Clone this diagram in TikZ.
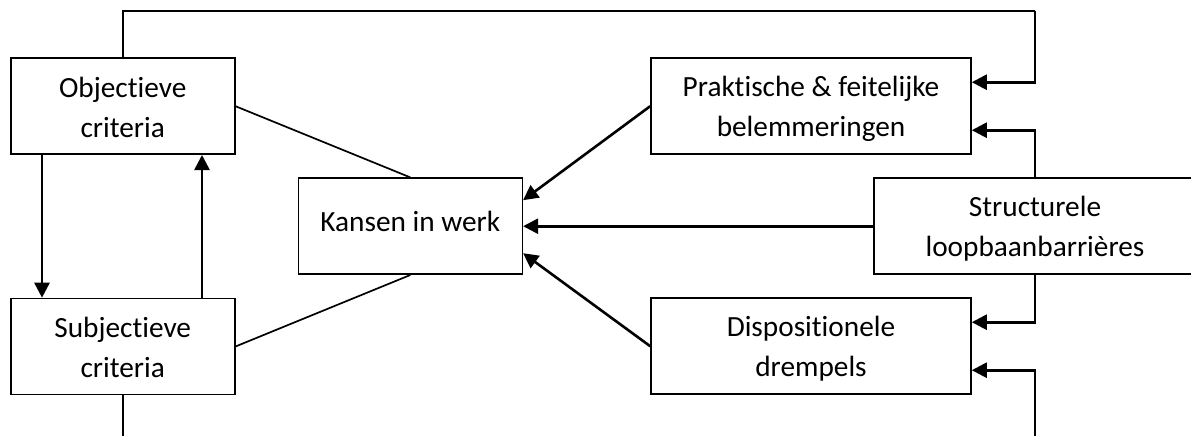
\documentclass[tikz,border=0pt]{standalone}
\usepackage{fontspec}
\setmainfont[RawFeature={-liga}]{Carlito}
\usetikzlibrary{arrows.meta,calc}
% struts that fix the baselines inside the boxes
\newcommand\twostrut{\rule[-4pt]{0pt}{30pt}}
\newcommand\onestrut{\rule[-16pt]{0pt}{42pt}}
\begin{document}
\begin{tikzpicture}[x=1pt,y=-1pt,
  box/.style={draw, line width=1.6pt, minimum height=96pt, align=center,
    inner sep=0pt, font=\fontsize{29.3}{40}\selectfont},
  thinline/.style={line width=1.7pt},
  flow/.style={line width=2.6pt, -{Triangle[length=15pt,width=15pt]}}]
\useasboundingbox (0,0) rectangle (1191,436);
\clip (0,0) rectangle (1191,436);

% boxes
\node[box, minimum width=224pt] (obj) at (122.7,106.2) {\twostrut Objectieve\\\twostrut criteria};
\node[box, minimum width=224pt] (sub) at (122.7,346.5) {\twostrut Subjectieve\\\twostrut criteria};
\node[box, minimum width=224pt] (kan) at (410.3,226.2) {\onestrut Kansen in werk};
\node[box, minimum width=320pt] (prak) at (811,106.2) {\twostrut Praktische \& feitelijke\\\twostrut belemmeringen};
\node[box, minimum width=322pt] (struc) at (1035,226.2) {\twostrut Structurele\\\twostrut loopbaanbarrières};
\node[box, minimum width=320pt] (disp) at (811,346.2) {\twostrut Dispositionele\\\twostrut drempels};

% helper points
\coordinate (xl) at (42,0);
\coordinate (xr) at (202,0);
\coordinate (tl) at (122.7,10.7);
\coordinate (tr) at (1035,10.7);
\coordinate (bl) at (122.7,440);
\coordinate (br) at (1035,440);

% plain links to the central box
\draw[thinline] (obj.east) -- (kan.north);
\draw[thinline] (sub.east) -- (kan.south);

% mutual influence of the criteria
\draw[flow] (obj.south -| xl) -- (sub.north -| xl);
\draw[flow] (sub.north -| xr) -- (obj.south -| xr);

% barriers acting on opportunities
\draw[flow] (prak.west) -- ([yshift=26pt]kan.east);
\draw[flow] (struc.west) -- (kan.east);
\draw[flow] (disp.west) -- ([yshift=-27pt]kan.east);

% feedback loops on the right
\draw[thinline] (obj.north) -- (tl) -- (tr);
\draw[flow] (tr) |- ([yshift=24pt]prak.east);
\draw[flow] (struc.north) |- ([yshift=-24pt]prak.east);
\draw[flow] (struc.south) |- ([yshift=24pt]disp.east);
\draw[flow] (br) |- ([yshift=-24pt]disp.east);
\draw[thinline] (sub.south) -- (bl);
\end{tikzpicture}
\end{document}
